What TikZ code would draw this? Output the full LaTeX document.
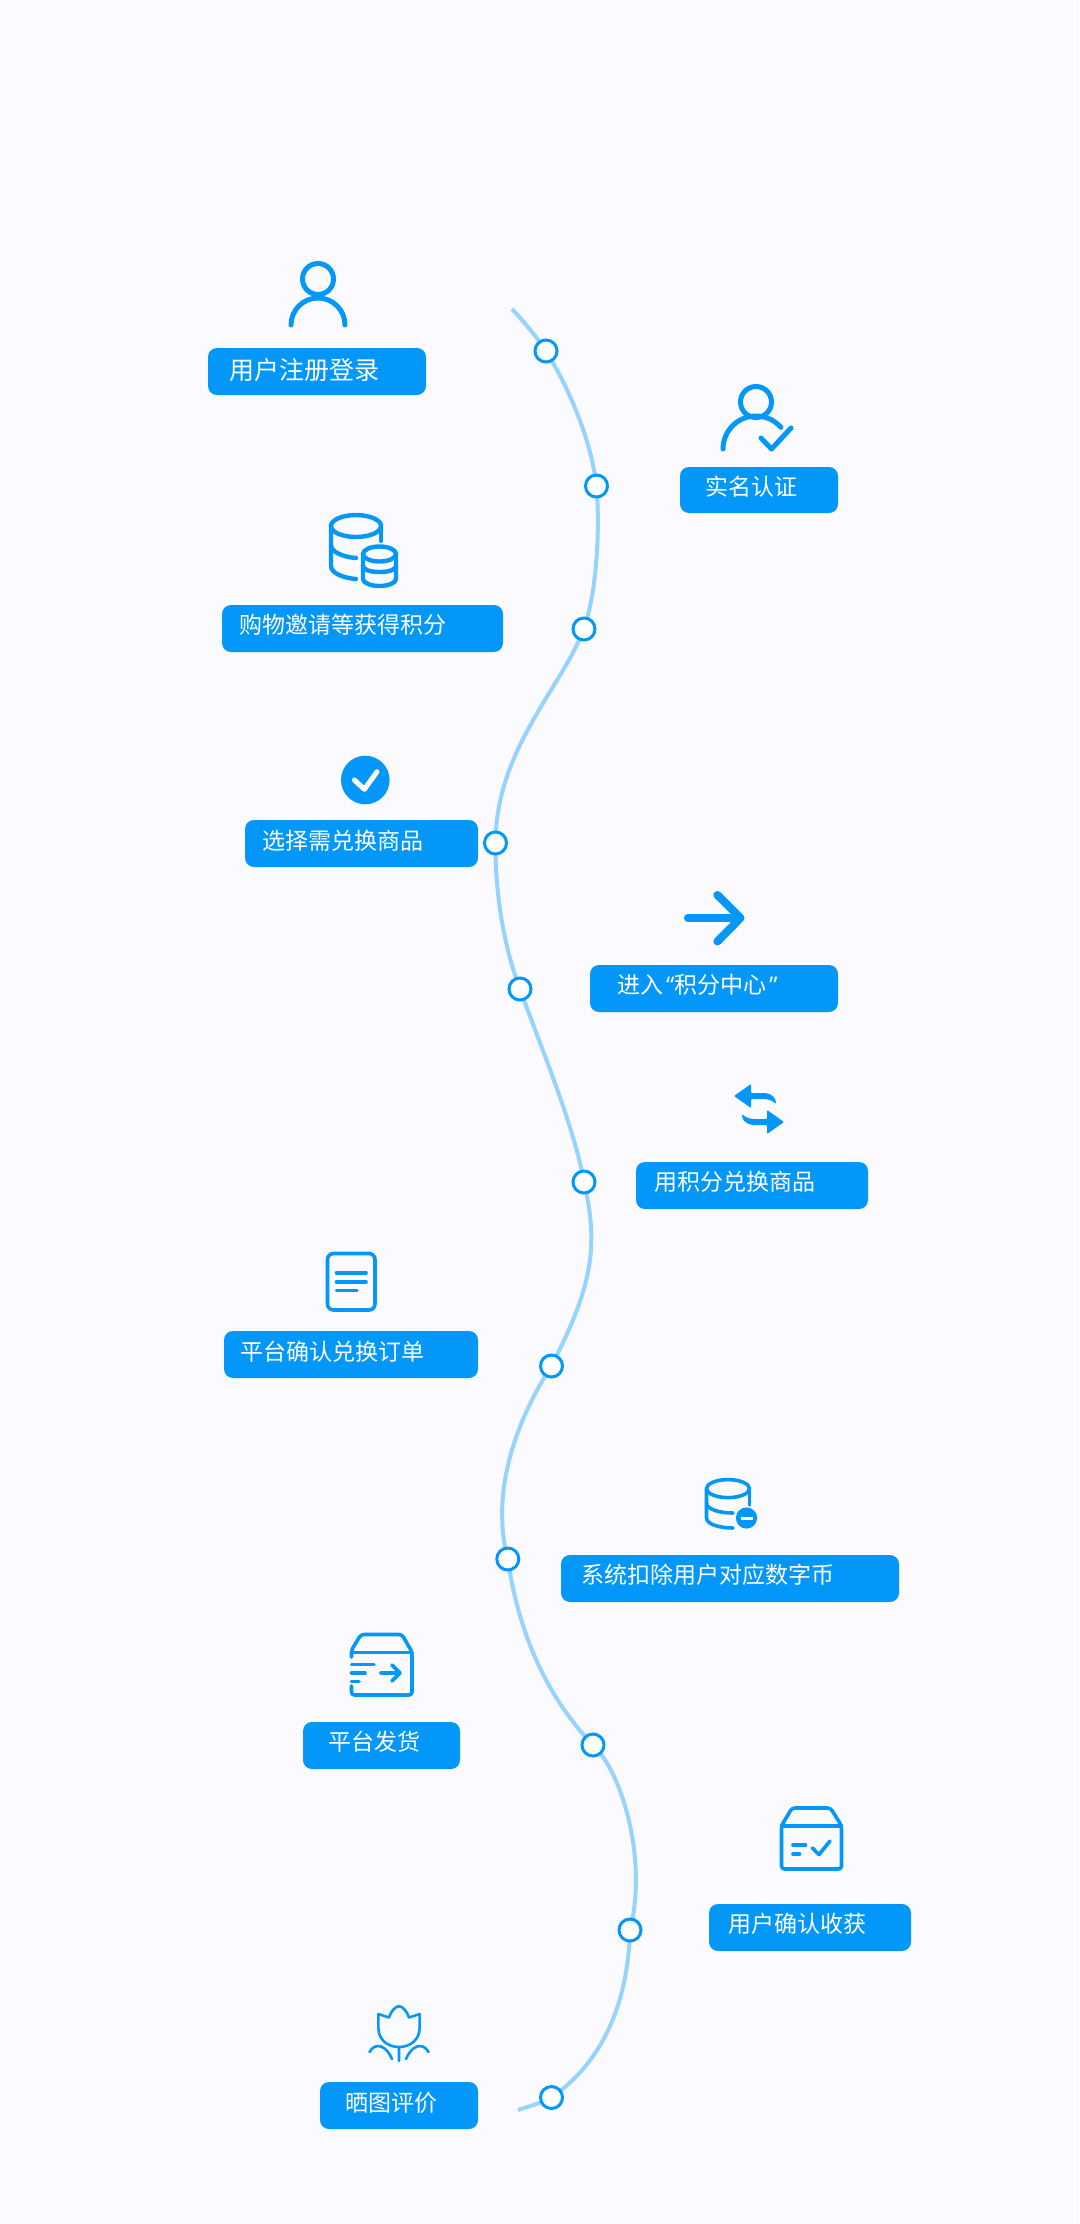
\documentclass[tikz,border=0pt]{standalone}
\usepackage{fontspec}
\setmainfont{Noto Sans CJK SC}
\newfontfamily\quotefont{Noto Sans}
\usetikzlibrary{backgrounds}
\definecolor{bgc}{HTML}{FAFAFF}
\definecolor{mainb}{HTML}{0497FA}
\definecolor{lineb}{HTML}{96D4FF}
\tikzset{
  lablebox/.style={fill=mainb,draw=none,rounded corners=9pt,inner sep=0pt},
  labletext/.style={text=white,anchor=west,inner sep=0pt,font=\fontsize{23}{23}\selectfont},
  dot/.style={circle,draw=mainb,line width=3pt,fill=white,minimum size=22pt,inner sep=0pt},
  ico/.style={draw=mainb,line width=4.4pt,line cap=round,line join=round},
  icothin/.style={draw=mainb,line width=3.6pt,line cap=round,line join=round},
  timeline/.style={draw=lineb,line width=4pt}
}
\newcommand{\labl}[8]{%
  \node[lablebox,minimum width={(#4)-(#2)},minimum height={(#5)-(#3)}] (b#1) at ({((#2)+(#4))/2},{((#3)+(#5))/2}) {};
  \node[labletext] (t#1) at (#6,#7) {#8};}
\begin{document}
\begin{tikzpicture}[x=1pt,y=-1pt]
\useasboundingbox (0,0) rectangle (1079,2224);
% dots
\node[dot] (n1) at (546,351) {};
\node[dot] (n2) at (596.5,486) {};
\node[dot] (n3) at (584,629) {};
\node[dot] (n4) at (495.5,843) {};
\node[dot] (n5) at (520,989) {};
\node[dot] (n6) at (584,1182) {};
\node[dot] (n7) at (551.5,1366) {};
\node[dot] (n8) at (507.8,1559) {};
\node[dot] (n9) at (593,1745) {};
\node[dot] (n10) at (630,1930) {};
\node[dot] (n11) at (551.5,2097.5) {};
\coordinate (start) at (512,309);
\coordinate (stop) at (518,2110);
\begin{scope}[on background layer]
\fill[bgc] (0,0) rectangle (1079,2224);
\draw[timeline] (start) .. controls (525,323) and (536,336) .. (n1.center)
 .. controls (570,390) and (591,440) .. (n2.center)
 .. controls (600,530) and (597,590) .. (n3.center)
 .. controls (560,690) and (496,750) .. (n4.center)
 .. controls (495,890) and (503,945) .. (n5.center)
 .. controls (538,1040) and (574,1125) .. (n6.center)
 .. controls (600,1250) and (590,1290) .. (n7.center)
 .. controls (510,1430) and (492,1500) .. (n8.center)
 .. controls (518,1630) and (545,1695) .. (n9.center)
 .. controls (622,1772) and (648,1860) .. (n10.center)
 .. controls (628,2000) and (605,2060) .. (n11.center)
 .. controls (541,2103) and (530,2106) .. (stop);
\end{scope}
% labels
\labl{1}{208}{348}{426}{395}{229}{370}{\fontsize{25}{25}\selectfont 用户注册登录}
\labl{2}{680}{467}{838}{513}{705}{487}{实名认证}
\labl{3}{222}{605}{503}{652}{239}{625}{购物邀请等获得积分}
\labl{4}{245}{820}{478}{867}{262}{841}{选择需兑换商品}
\labl{5}{590}{965}{838}{1012}{617}{985}{进入\kern3pt{\quotefont “}积分中心\kern3pt{\quotefont ”}}
\labl{6}{636}{1162}{868}{1209}{654}{1182}{用积分兑换商品}
\labl{7}{224}{1331}{478}{1378}{240}{1352}{平台确认兑换订单}
\labl{8}{561}{1555}{899}{1602}{581}{1575}{系统扣除用户对应数字币}
\labl{9}{303}{1722}{460}{1769}{328}{1742}{平台发货}
\labl{10}{709}{1904}{911}{1951}{728}{1924}{用户确认收获}
\labl{11}{320}{2082}{478}{2129}{345}{2103}{晒图评价}
% person
\draw[ico,line width=5pt] (318,279) circle (15.5);
\draw[ico,line width=5pt] (291,325) arc (180:360:27);
% person check
\draw[ico,line width=5pt] (756,402) circle (15.5);
\draw[ico,line width=5pt] (723,449) arc (180:319:33);
\draw[ico,line width=5pt] (761,438) -- (771.5,449) -- (791,428);
% databases
\draw[ico] (356,526) ellipse (25 and 11);
\draw[ico] (331,526) -- (331,566) .. controls (331,573) and (343,578) .. (356,579);
\draw[ico] (331,545) .. controls (331,552) and (343,557) .. (356,558);
\draw[ico] (381,526) -- (381,541);
\draw[ico] (379.5,554) ellipse (16.5 and 7.5);
\draw[ico] (363,554) -- (363,579) .. controls (363,583) and (371,586) .. (379.5,586) .. controls (388,586) and (396,583) .. (396,579) -- (396,554);
\draw[ico] (363,566) .. controls (363,570) and (371,572) .. (379.5,572) .. controls (388,572) and (396,570) .. (396,566);
% check circle
\fill[mainb] (365.3,780) circle (24.3);
\draw[ico,draw=white,line width=5pt] (354.4,780) -- (364.4,789.3) -- (377,771.7);
% arrow
\draw[ico,line width=8pt] (688,918) -- (740,918);
\draw[ico,line width=8pt] (717.4,895) -- (740.5,918) -- (717.4,941.5);
% swap
\fill[mainb,rounded corners=1pt] (734,1096) -- (751,1084) -- (751,1093) -- (765,1093) .. controls (772,1094) and (776,1098) .. (776,1104) .. controls (773,1101) and (769,1099) .. (762,1099) -- (751,1099) -- (751,1108) -- cycle;
\fill[mainb,rounded corners=1pt] (784,1122) -- (767,1134) -- (767,1125) -- (753,1125) .. controls (746,1124) and (742,1120) .. (742,1114) .. controls (745,1117) and (749,1119) .. (756,1119) -- (767,1119) -- (767,1110) -- cycle;
% document
\draw[icothin,rounded corners=6pt] (327.5,1253.5) rectangle (375,1310);
\draw[icothin] (336.5,1272.7) -- (366,1272.7);
\draw[icothin] (336.5,1281.7) -- (366,1281.7);
\draw[icothin] (336.5,1290.5) -- (357,1290.5);
% db minus
\draw[icothin] (728,1488.6) ellipse (21.5 and 9);
\draw[icothin] (706.5,1488.6) -- (706.5,1518) .. controls (706.5,1524) and (719,1528) .. (733,1528);
\draw[icothin] (706.5,1503) .. controls (706.5,1509) and (719,1513) .. (733,1513);
\draw[icothin] (749.5,1488.6) -- (749.5,1505);
\fill[mainb] (746.5,1518) circle (10.6);
\draw[ico,draw=white,line width=3pt,line cap=butt] (740.5,1518) -- (752.5,1518);
% box send
\draw[icothin,rounded corners=3pt] (351.5,1657) -- (351.5,1650) -- (361,1634.5) -- (402,1634.5) -- (412,1652) -- (412,1695) -- (351.5,1695) -- (351.5,1686);
\draw[icothin] (351.5,1652.5) -- (412,1652.5);
\draw[icothin] (351.5,1664.3) -- (374,1664.3);
\draw[icothin] (351.5,1673) -- (365,1673);
\draw[icothin] (351.5,1681.4) -- (359,1681.4);
\draw[icothin] (381,1673) -- (399.5,1673);
\draw[icothin] (392,1665) -- (400,1673) -- (392,1681);
% box check
\draw[icothin,rounded corners=3pt] (781.5,1825.7) -- (792,1808) -- (830.5,1808) -- (841.5,1825.7) -- (841.5,1869) -- (781.5,1869) -- cycle;
\draw[icothin] (781.5,1825.7) -- (841.5,1825.7);
\draw[icothin] (793,1845) -- (805.5,1845);
\draw[icothin] (793,1854) -- (799.5,1854);
\draw[icothin] (812.5,1848) -- (819,1854.6) -- (830,1841);
% tulip
\draw[ico,line width=2.6pt] (399,2047) .. controls (387,2047) and (378.4,2039) .. (378.4,2028) -- (378.4,2014) -- (389,2017.5) .. controls (391,2011) and (395,2007) .. (399,2006) .. controls (403,2007) and (407,2011) .. (409,2017.5) -- (419.6,2014) -- (419.6,2028) .. controls (419.6,2039) and (411,2047) .. (399,2047) -- (399,2061);
\draw[ico,line width=2.6pt] (369.5,2052) .. controls (372,2047) and (377,2045) .. (381,2046.5) .. controls (386,2048) and (390,2054) .. (392,2059);
\draw[ico,line width=2.6pt] (428.5,2052) .. controls (426,2047) and (421,2045) .. (417,2046.5) .. controls (412,2048) and (408,2054) .. (406,2059);
\end{tikzpicture}
\end{document}
